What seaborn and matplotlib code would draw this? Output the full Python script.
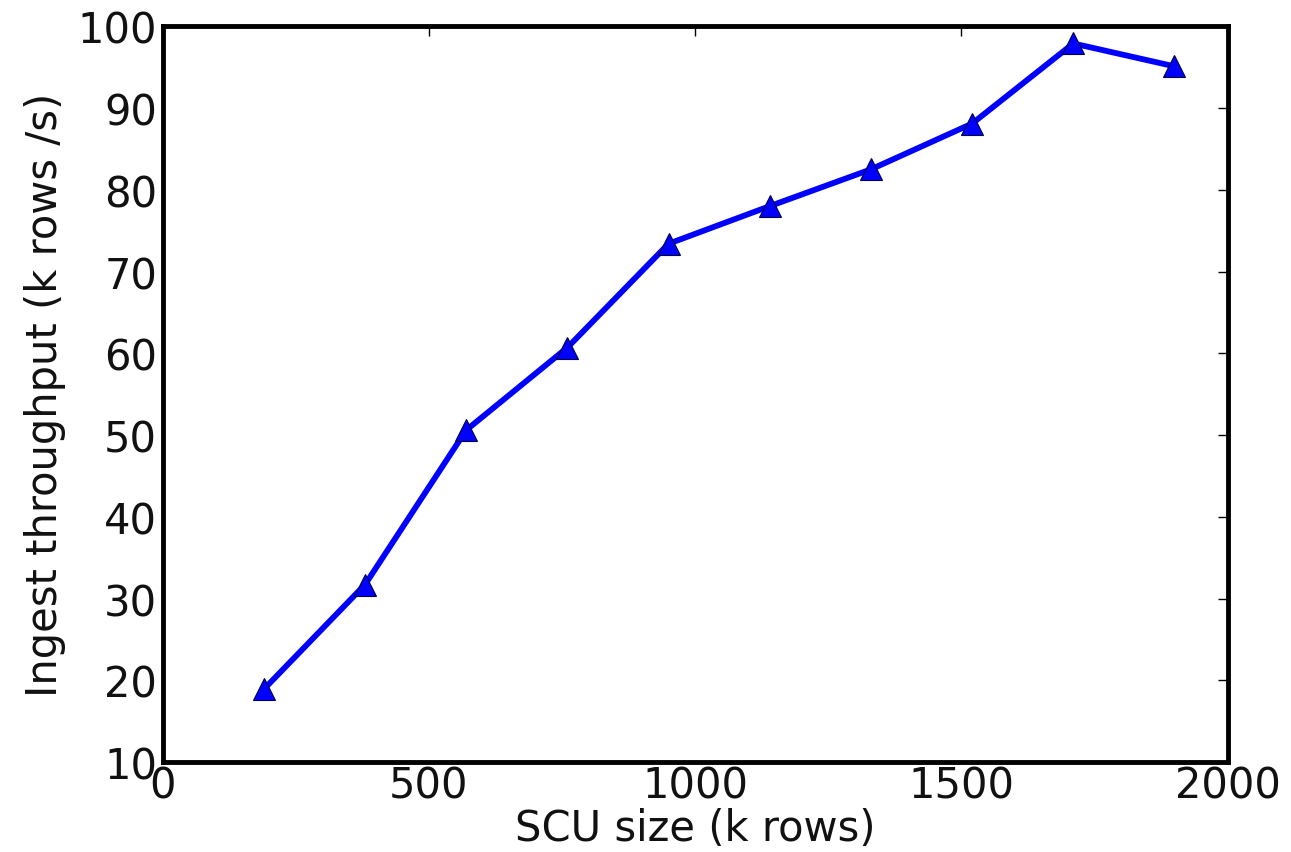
import matplotlib
matplotlib.use("Agg")
import matplotlib.pyplot as plt
import pandas as pd
import seaborn as sns

# SCU size (k rows) vs ingest throughput (k rows/s)
scu_size = [190, 380, 570, 760, 950, 1140, 1330, 1520, 1710, 1900]
throughput = [18.9, 31.7, 50.6, 60.7, 73.4, 78.0, 82.5, 88.1, 97.9, 95.1]

x_ticks = [0, 500, 1000, 1500, 2000]
y_ticks = [10, 20, 30, 40, 50, 60, 70, 80, 90, 100]

df = pd.DataFrame({'SCU': scu_size, 'Throughput': throughput})

sns.set_style("white")
plt.rcParams['font.family'] = ['DejaVu Sans']

fig, ax = plt.subplots(figsize=(12.91, 8.53), dpi=100)
fig.subplots_adjust(left=0.126, right=0.951, top=0.968, bottom=0.1055)

sns.lineplot(data=df, x='SCU', y='Throughput', ax=ax, color='#0000ff',
             linewidth=4.2, marker='^', markersize=16,
             markeredgecolor='#000044', markeredgewidth=0.8)

ax.set_xlim(0, 2000)
ax.set_ylim(10, 100)
ax.set_xticks(x_ticks)
ax.set_yticks(y_ticks)

ax.tick_params(direction='in', length=7, width=1, labelsize=30, pad=4,
               top=True, right=True, colors='black', labelcolor='#111111')
ax.tick_params(axis='x', pad=2)

for spine in ax.spines.values():
    spine.set_visible(True)
    spine.set_linewidth(3.5)
    spine.set_color('black')

ax.set_xlabel("SCU size (k rows)", fontsize=30, labelpad=0, color='#111111')
ax.set_ylabel("Ingest throughput (k rows /s)", fontsize=30, labelpad=8, color='#111111')

plt.savefig("out.png", dpi=100)
plt.close()
